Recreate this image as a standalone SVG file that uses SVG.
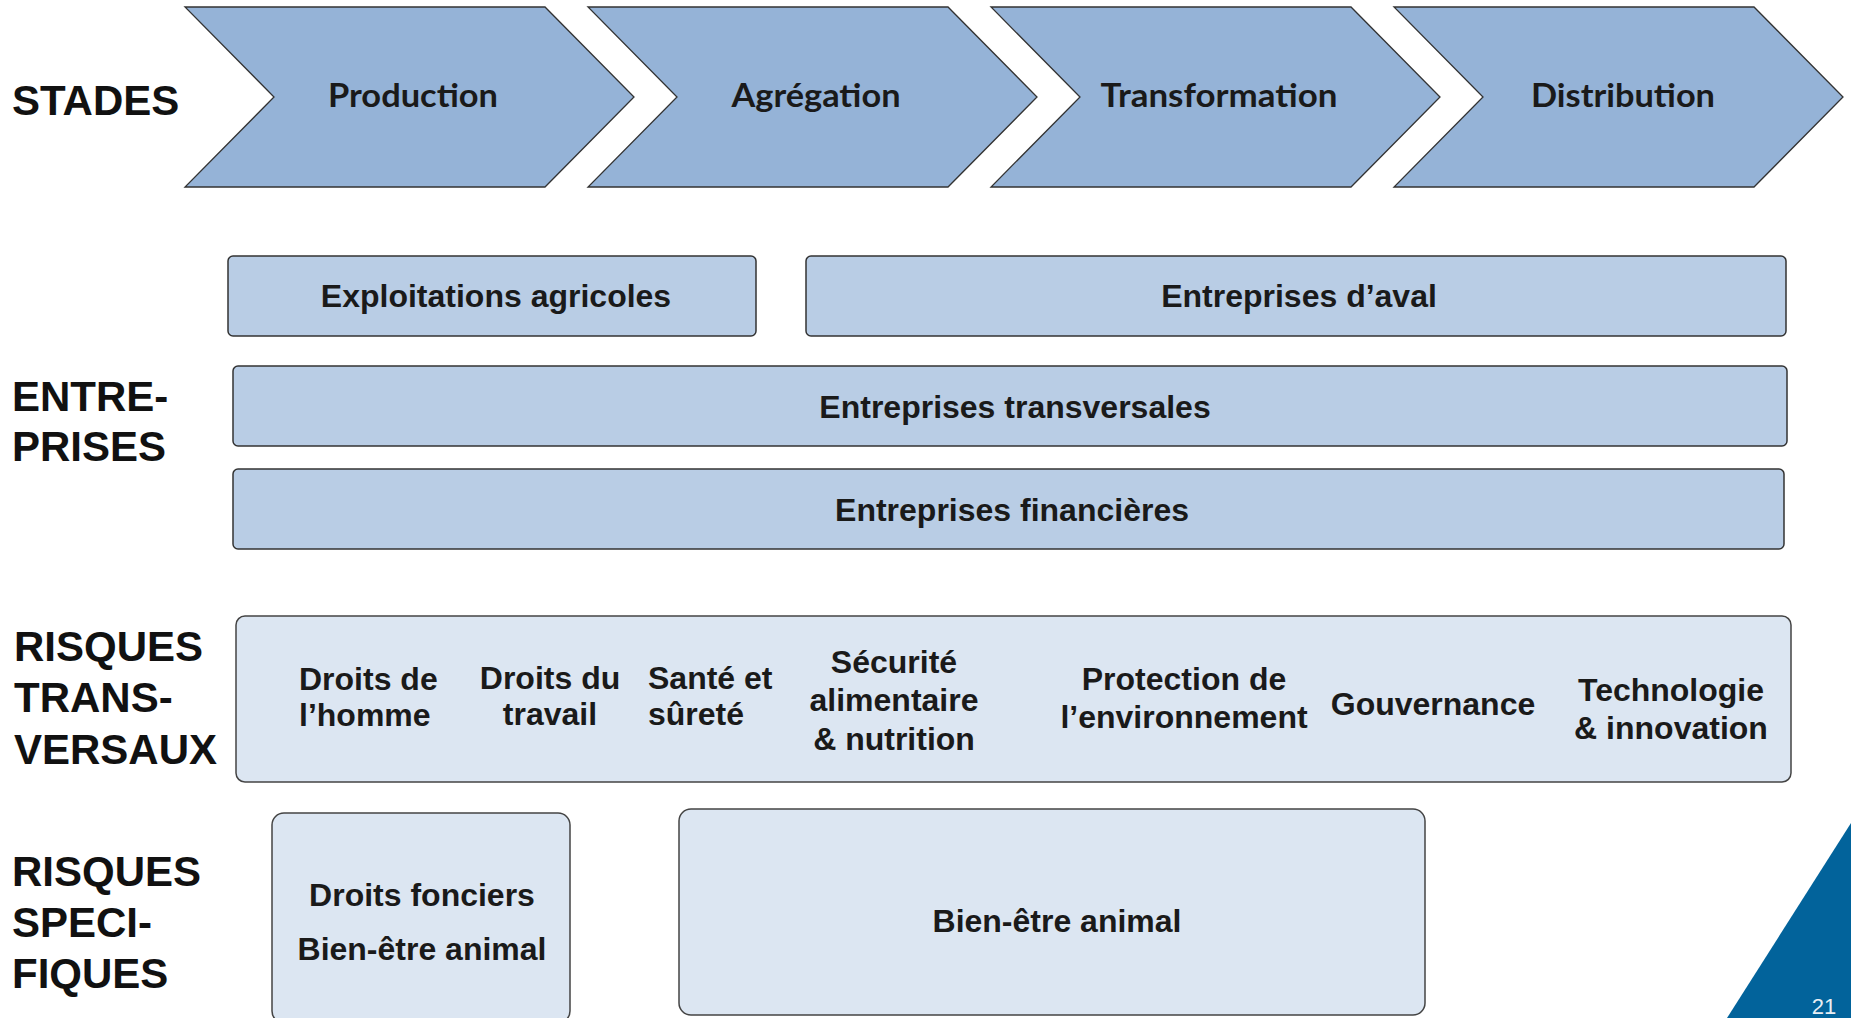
<svg xmlns="http://www.w3.org/2000/svg" width="1851" height="1018" viewBox="0 0 1851 1018">
<style>
.chev{fill:#95B3D7;stroke:#333;stroke-width:1.3}
.ent{fill:#B9CDE5;stroke:#333;stroke-width:1.5}
.risk{fill:#DCE6F2;stroke:#444;stroke-width:1.5}
.cl{font-family:Lato,"Open Sans",sans-serif;font-weight:bold;font-size:33px;fill:#1a1a1a;text-anchor:middle}
.t{font-family:"Liberation Sans",Arial,sans-serif;font-weight:bold;font-size:32px;fill:#1a1a1a;text-anchor:middle}
.tl{font-family:"Liberation Sans",Arial,sans-serif;font-weight:bold;font-size:32px;fill:#1a1a1a}
.row{font-family:"Liberation Sans",Arial,sans-serif;font-weight:bold;font-size:42px;fill:#111}
</style>
<defs>
<polygon id="chevShape" points="0,0 360,0 449,90 360,180 0,180 89,90"/>
</defs>

<g id="row-labels">
<text class="row" x="12" y="115">STADES</text>
<text class="row" x="12" y="411">ENTRE-</text>
<text class="row" x="12" y="461">PRISES</text>
<text class="row" x="14" y="661">RISQUES</text>
<text class="row" x="14" y="712">TRANS-</text>
<text class="row" x="14" y="764">VERSAUX</text>
<text class="row" x="12" y="886">RISQUES</text>
<text class="row" x="12" y="937">SPECI-</text>
<text class="row" x="12" y="988">FIQUES</text>
</g>

<g id="connectors"></g>

<g id="stage-production">
<use href="#chevShape" class="chev" transform="translate(185,7)"/>
<text class="cl" x="413" y="107" textLength="170" lengthAdjust="spacingAndGlyphs">Production</text>
</g>
<g id="stage-agregation">
<use href="#chevShape" class="chev" transform="translate(588,7)"/>
<text class="cl" x="816" y="107" textLength="169" lengthAdjust="spacingAndGlyphs">Agrégation</text>
</g>
<g id="stage-transformation">
<use href="#chevShape" class="chev" transform="translate(991,7)"/>
<text class="cl" x="1219" y="107" textLength="237" lengthAdjust="spacingAndGlyphs">Transformation</text>
</g>
<g id="stage-distribution">
<use href="#chevShape" class="chev" transform="translate(1394,7)"/>
<text class="cl" x="1623" y="107" textLength="184" lengthAdjust="spacingAndGlyphs">Distribution</text>
</g>

<g id="exploitations">
<rect class="ent" x="228" y="256" width="528" height="80" rx="5"/>
<text class="t" x="496" y="307">Exploitations agricoles</text>
</g>
<g id="aval">
<rect class="ent" x="806" y="256" width="980" height="80" rx="5"/>
<text class="t" x="1299" y="307">Entreprises d’aval</text>
</g>
<g id="transversales">
<rect class="ent" x="233" y="366" width="1554" height="80" rx="5"/>
<text class="t" x="1015" y="418">Entreprises transversales</text>
</g>
<g id="financieres">
<rect class="ent" x="233" y="469" width="1551" height="80" rx="5"/>
<text class="t" x="1012" y="521">Entreprises financières</text>
</g>

<g id="risques-transversaux">
<rect class="risk" x="236" y="616" width="1555" height="166" rx="9"/>
<text class="tl" x="299" y="690">Droits de</text>
<text class="tl" x="299" y="726">l’homme</text>
<text class="t" x="550" y="689">Droits du</text>
<text class="t" x="550" y="725">travail</text>
<text class="tl" x="648" y="689">Santé et</text>
<text class="tl" x="648" y="725">sûreté</text>
<text class="t" x="894" y="673">Sécurité</text>
<text class="t" x="894" y="711">alimentaire</text>
<text class="t" x="894" y="750">&amp; nutrition</text>
<text class="t" x="1184" y="690">Protection de</text>
<text class="t" x="1184" y="728">l’environnement</text>
<text class="t" x="1433" y="715">Gouvernance</text>
<text class="t" x="1671" y="701">Technologie</text>
<text class="t" x="1671" y="739">&amp; innovation</text>
</g>

<g id="risques-specifiques-production">
<rect class="risk" x="272" y="813" width="298" height="210" rx="12"/>
<text class="t" x="422" y="906">Droits fonciers</text>
<text class="t" x="422" y="960">Bien-être animal</text>
</g>
<g id="risques-specifiques-aval">
<rect class="risk" x="679" y="809" width="746" height="206" rx="12"/>
<text class="t" x="1057" y="932">Bien-être animal</text>
</g>

<g id="page-corner">
<polygon points="1851,823 1851,1018 1727,1018" fill="#02639B"/>
<text x="1824" y="1014" font-family="'Liberation Sans',Arial,sans-serif" font-size="22" fill="#e8eef4" text-anchor="middle">21</text>
</g>
</svg>
